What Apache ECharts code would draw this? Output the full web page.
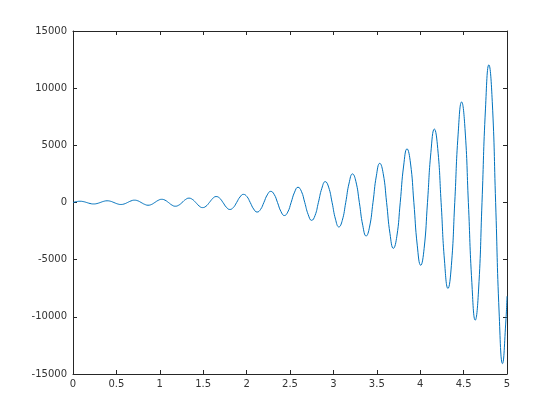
<!DOCTYPE html>
<html>
<head>
<meta charset="utf-8">
<script src="https://cdn.jsdelivr.net/npm/echarts@6/dist/echarts.min.js"></script>
<style>html,body{margin:0;padding:0;background:#fff;}#c{width:560px;height:420px;}</style>
</head>
<body>
<div id="c"></div>
<script>
// time samples (x)
var tValues = [
0,0.039,0.079,0.118,0.157,0.196,0.236,0.275,
0.314,0.353,0.393,0.432,0.471,0.511,0.550,0.589,
0.628,0.668,0.707,0.746,0.785,0.825,0.864,0.903,
0.942,0.982,1.021,1.060,1.100,1.139,1.178,1.217,
1.257,1.296,1.335,1.374,1.414,1.453,1.492,1.532,
1.571,1.610,1.649,1.689,1.728,1.767,1.806,1.846,
1.885,1.924,1.963,2.003,2.042,2.081,2.121,2.160,
2.199,2.238,2.278,2.317,2.356,2.395,2.435,2.474,
2.513,2.553,2.592,2.631,2.670,2.710,2.749,2.788,
2.827,2.867,2.906,2.945,2.985,3.024,3.063,3.102,
3.142,3.181,3.220,3.259,3.299,3.338,3.377,3.416,
3.456,3.495,3.534,3.574,3.613,3.652,3.691,3.731,
3.770,3.809,3.848,3.888,3.927,3.966,4.006,4.045,
4.084,4.123,4.163,4.202,4.241,4.280,4.320,4.359,
4.398,4.437,4.477,4.516,4.555,4.595,4.634,4.673,
4.712,4.752,4.791,4.830,4.869,4.909,4.948,4.987,
5.000];
// signal values (y)
var yValues = [
0,74,108,80,0,-86,-127,-93,
0,101,148,109,0,-118,-173,-127,
0,138,203,149,0,-161,-237,-175,
0,189,278,204,0,-221,-325,-239,
0,258,380,280,0,-302,-445,-327,
0,354,520,383,0,-414,-609,-448,
0,484,712,524,0,-567,-834,-613,
0,663,975,717,0,-776,-1141,-839,
0,908,1335,982,0,-1062,-1563,-1149,
0,1243,1828,1345,0,-1454,-2139,-1573,
0,1702,2503,1841,0,-1991,-2929,-2154,
0,2330,3427,2520,0,-2726,-4010,-2949,
0,3190,4692,3451,0,-3733,-5490,-4038,
0,4367,6424,4724,0,-5110,-7517,-5528,
0,5979,8795,6468,0,-6997,-10291,-7568,
0,8186,12041,8855,0,-9579,-14090,-10362,
-8200];
var xTicks = {min:0, max:5, interval:0.5};
var yTicks = {min:-15000, max:15000, interval:5000};

var data = tValues.map(function(t,i){return [t, yValues[i]];});
var axisColor = '#262626';
var labelStyle = {color:'#333', fontSize:10, fontFamily:'DejaVu Sans'};
function fmt(v){ return String(v); }
function mkX(pos, showLabel){
  return {type:'value', position:pos, min:xTicks.min, max:xTicks.max, interval:xTicks.interval,
    axisLine:{show:true, onZero:false, lineStyle:{color:axisColor, width:1}},
    axisTick:{show:true, inside:true, length:4, lineStyle:{color:axisColor}},
    axisLabel:Object.assign({show:showLabel, margin:5, formatter:fmt}, labelStyle),
    splitLine:{show:false}};
}
function mkY(pos, showLabel){
  return {type:'value', position:pos, min:yTicks.min, max:yTicks.max, interval:yTicks.interval,
    axisLine:{show:true, onZero:false, lineStyle:{color:axisColor, width:1}},
    axisTick:{show:true, inside:true, length:4, lineStyle:{color:axisColor}},
    axisLabel:Object.assign({show:showLabel, margin:6, formatter:fmt}, labelStyle),
    splitLine:{show:false}};
}
var chart = echarts.init(document.getElementById('c'), null, {renderer:'canvas'});
chart.setOption({
  animation:false,
  backgroundColor:'#fff',
  grid:{left:73, right:53, top:31, bottom:46, containLabel:false},
  xAxis:[mkX('bottom', true), mkX('top', false)],
  yAxis:[mkY('left', true), mkY('right', false)],
  series:[{type:'line', xAxisIndex:0, yAxisIndex:0, data:data, showSymbol:false, smooth:true,
    clip:true, lineStyle:{color:'#0072BD', width:1}, itemStyle:{color:'#0072BD'}}]
});
</script>
</body>
</html>
